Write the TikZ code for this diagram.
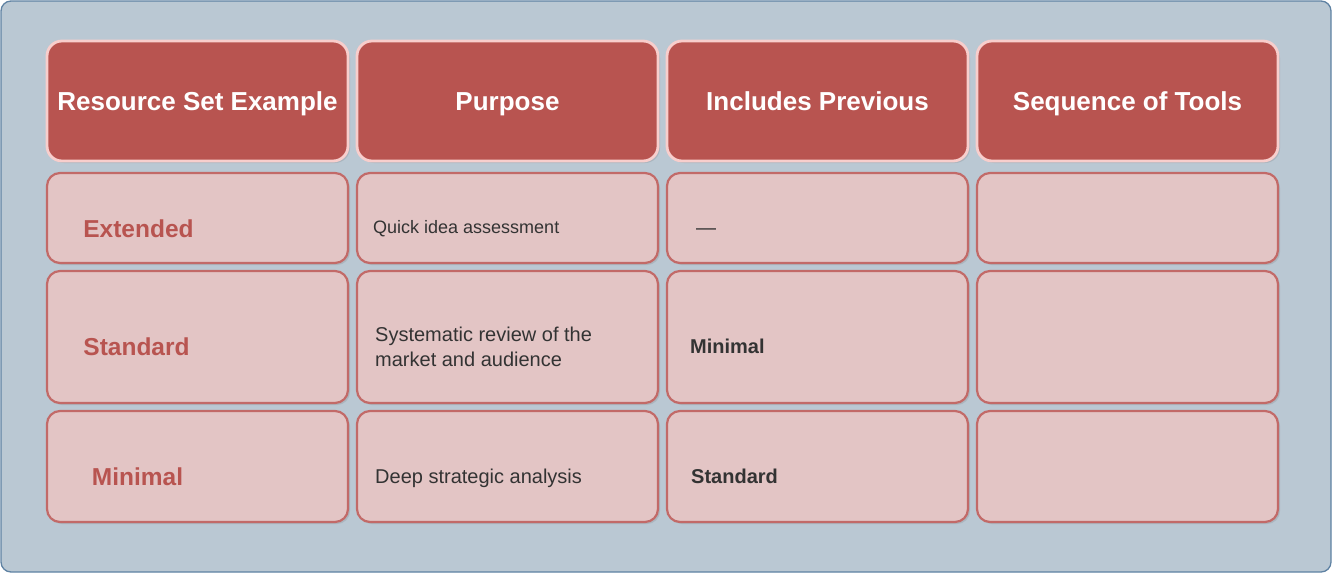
\documentclass[tikz,border=0pt]{standalone}
\usepackage{fontspec}
\setmainfont{Liberation Sans}
\usetikzlibrary{positioning, shadows}
\definecolor{framefill}{HTML}{BAC8D3}
\definecolor{frameline}{HTML}{5F82A3}
\definecolor{headfill}{HTML}{B85450}
\definecolor{headline}{HTML}{F8CECC}
\definecolor{cellfill}{HTML}{E3C5C5}
\definecolor{cellline}{HTML}{C26A68}
\definecolor{darktext}{HTML}{333333}

\begin{document}
\begin{tikzpicture}[
  frame/.style={draw=frameline, fill=framefill, line width=1.3pt, rounded corners=10pt},
  header/.style={rectangle, draw=headline, line width=2.8pt, fill=headfill, rounded corners=15pt, minimum width=301pt, minimum height=120pt, outer sep=0pt, text=white, text height=18.6pt, text depth=0pt, font=\fontsize{26}{30}\selectfont\bfseries, drop shadow={opacity=0.25, shadow xshift=2pt, shadow yshift=-2pt}},
  cell/.style={rectangle, draw=cellline, line width=2.2pt, fill=cellfill, rounded corners=13pt, minimum width=301pt, outer sep=0pt, drop shadow={opacity=0.25, shadow xshift=2pt, shadow yshift=-2pt}},
  rowname/.style={inner sep=0pt, text=headfill, font=\fontsize{24.5}{29}\selectfont\bfseries},
  purpose/.style={inner sep=0pt, anchor=west, align=left, text=darktext, font=\fontsize{20}{25}\selectfont},
  previous/.style={inner sep=0pt, anchor=west, text=darktext, font=\fontsize{20}{24}\selectfont\bfseries}
]
\useasboundingbox (0,0) rectangle (1332pt,-573pt);

% Background
\draw[frame] (1pt,-1pt) rectangle (1331pt,-572pt);

% Header row
\node[header, anchor=north west] (h1) at (47pt,-41pt) {Resource Set Example};
\node[header, right=9pt of h1] (h2) {Purpose};
\node[header, right=9pt of h2] (h3) {Includes Previous};
\node[header, right=9pt of h3] (h4) {Sequence of Tools};

% Row 1
\node[cell, minimum height=90pt, below=12pt of h1] (a1) {};
\node[cell, minimum height=90pt, right=9pt of a1] (a2) {};
\node[cell, minimum height=90pt, right=9pt of a2] (a3) {};
\node[cell, minimum height=90pt, right=9pt of a3] (a4) {};

% Row 2
\node[cell, minimum height=132pt, below=8pt of a1] (b1) {};
\node[cell, minimum height=132pt, right=9pt of b1] (b2) {};
\node[cell, minimum height=132pt, right=9pt of b2] (b3) {};
\node[cell, minimum height=132pt, right=9pt of b3] (b4) {};

% Row 3
\node[cell, minimum height=111pt, below=8pt of b1] (c1) {};
\node[cell, minimum height=111pt, right=9pt of c1] (c2) {};
\node[cell, minimum height=111pt, right=9pt of c2] (c3) {};
\node[cell, minimum height=111pt, right=9pt of c3] (c4) {};

% Texts
\node[rowname] (n1) at ([xshift=-59pt, yshift=-10.5pt]a1.center) {Extended};
\node[rowname] (n2) at ([xshift=-61pt, yshift=-10pt]b1.center) {Standard};
\node[rowname] (n3) at ([xshift=-60pt, yshift=-10.5pt]c1.center) {Minimal};

\node[purpose, font=\fontsize{18}{22}\selectfont] (p1) at ([xshift=16pt, yshift=-11pt]a2.west) {Quick idea assessment};
\node[purpose] (p2) at ([xshift=18pt, yshift=-9.5pt]b2.west) {Systematic review of the\\market and audience};
\node[purpose] (p3) at ([xshift=18pt, yshift=-11.5pt]c2.west) {Deep strategic analysis};

\node[previous, font=\fontsize{20}{24}\selectfont] (i1) at ([xshift=29pt, yshift=-14pt]a3.west) {—};
\node[previous] (i2) at ([xshift=23pt, yshift=-9pt]b3.west) {Minimal};
\node[previous] (i3) at ([xshift=24pt, yshift=-9.5pt]c3.west) {Standard};

\end{tikzpicture}
\end{document}
